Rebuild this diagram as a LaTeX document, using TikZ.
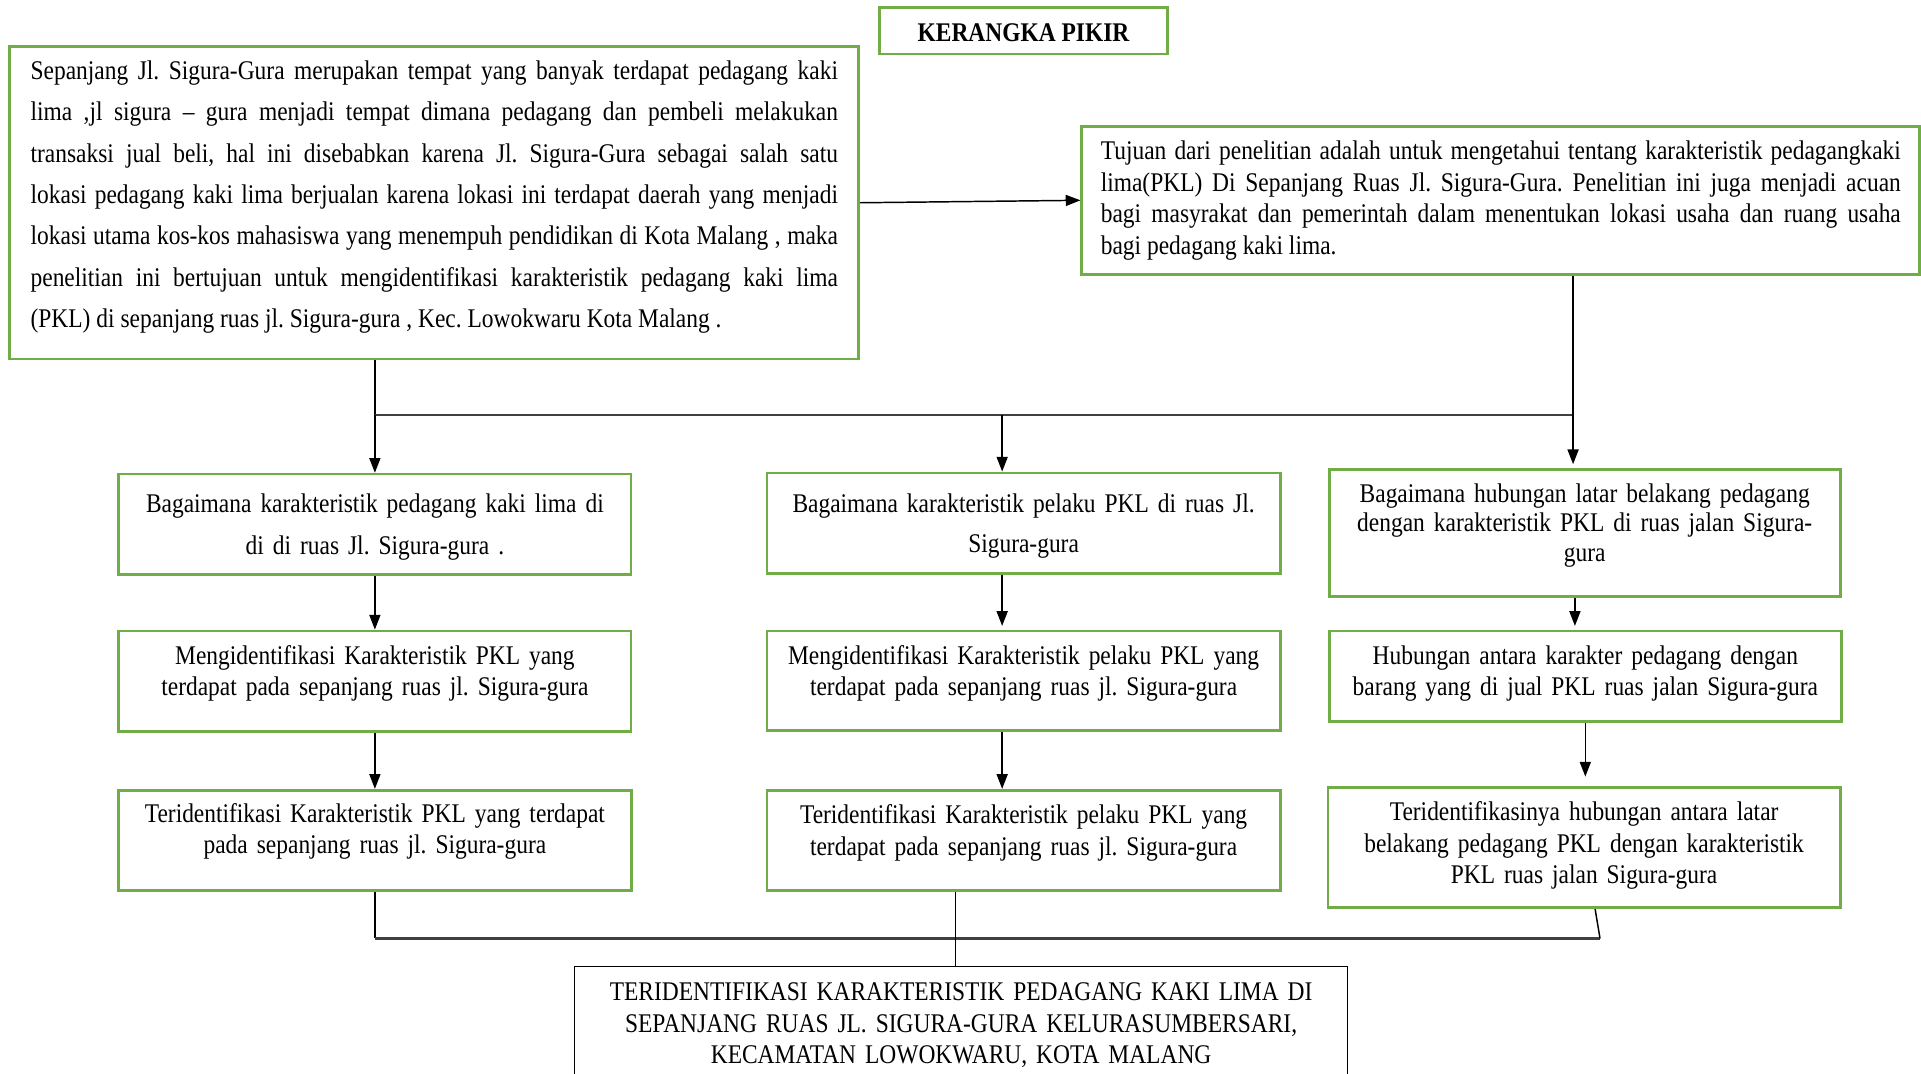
\documentclass[tikz,border=0pt]{standalone}
\usepackage{fontspec}
\setmainfont{Liberation Serif}[FakeStretch=0.87]
\frenchspacing
\usetikzlibrary{arrows.meta}
\definecolor{hijau}{RGB}{112,173,71}
\tikzset{
	kotak/.style={draw=hijau, line width=1.1pt, inner sep=0pt, anchor=base, align=center, font=\fontsize{11}{#1}\selectfont},
	kotak/.default=13,
	baris/.style={kotak=#1, minimum width=209pt, text width=200pt},
	baris/.default=13,
	panah/.style={-{Triangle[length=6pt,width=4.5pt]}, line width=0.6pt},
	garis/.style={line width=0.6pt},
	sambung/.style={line width=0.9pt, draw=black!75}
}

\begin{document}
\begin{tikzpicture}[x=0.5pt, y=-0.5pt]
		\useasboundingbox (0,0) rectangle (1568,876);
		
		\node[kotak, minimum width=117.5pt, text height=14pt, text depth=5pt] (judul) at (835.5,34) {\textbf{KERANGKA PIKIR}};
		
		\node[kotak=16.85, align=justify, minimum width=346.5pt, text width=329.5pt, text height=13.5pt, text depth=114pt] (latar) at (354.5,65) {Sepanjang Jl. Sigura-Gura merupakan tempat yang banyak terdapat pedagang kaki\linebreak
		lima ,jl sigura – gura menjadi tempat dimana pedagang dan pembeli melakukan\linebreak
		transaksi jual beli, hal ini disebabkan karena Jl. Sigura-Gura sebagai salah satu\linebreak
		lokasi pedagang kaki lima berjualan karena lokasi ini terdapat daerah yang menjadi\linebreak
		lokasi utama kos-kos mahasiswa yang menempuh pendidikan di Kota Malang , maka\linebreak
		penelitian ini bertujuan untuk mengidentifikasi karakteristik pedagang kaki lima\linebreak
		(PKL) di sepanjang ruas jl. Sigura-gura , Kec. Lowokwaru Kota Malang .};
		
		\node[kotak, align=justify, minimum width=342pt, text width=326.5pt, text height=13.5pt, text depth=47pt] (tujuan) at (1225,130) {Tujuan dari penelitian adalah untuk mengetahui tentang karakteristik pedagangkaki\linebreak
		lima(PKL) Di Sepanjang Ruas Jl. Sigura-Gura. Penelitian ini juga menjadi acuan\linebreak
		bagi masyrakat dan pemerintah dalam menentukan lokasi usaha dan ruang usaha\linebreak
		bagi pedagang kaki lima.};
		
		% rumusan masalah
		\node[baris=17.5, text height=15.5pt, text depth=25.5pt] (q1) at (306,418) {Bagaimana karakteristik pedagang kaki lima di\\ di di ruas Jl. Sigura-gura .};
		\node[baris=16.5, minimum width=209.5pt, text height=16pt, text depth=25pt] (q2) at (835.5,418) {Bagaimana karakteristik pelaku PKL di ruas Jl.\\ Sigura-gura};
		\node[baris=12, minimum width=208.5pt, text height=13.5pt, text depth=38.5pt] (q3) at (1293.5,410) {Bagaimana hubungan latar belakang pedagang\\ dengan karakteristik PKL di ruas jalan Sigura-\\ gura};
		
		% tujuan
		\node[baris, text height=13.5pt, text depth=27.5pt] (m1) at (306,542) {Mengidentifikasi Karakteristik PKL yang\\ terdapat pada sepanjang ruas jl. Sigura-gura};
		\node[baris, minimum width=209.5pt, text height=13.5pt, text depth=27pt] (m2) at (835.5,542) {Mengidentifikasi Karakteristik pelaku PKL yang\\ terdapat pada sepanjang ruas jl. Sigura-gura};
		\node[baris, text height=13.5pt, text depth=23.5pt] (m3) at (1294,542) {Hubungan antara karakter pedagang dengan\\ barang yang di jual PKL ruas jalan Sigura-gura};
		
		% hasil
		\node[baris, minimum width=209.5pt, text height=13pt, text depth=28pt] (r1) at (306,671) {Teridentifikasi Karakteristik PKL yang terdapat\\ pada sepanjang ruas jl. Sigura-gura};
		\node[baris, minimum width=209.5pt, text height=13.5pt, text depth=27.5pt] (r2) at (835.5,672) {Teridentifikasi Karakteristik pelaku PKL yang\\ terdapat pada sepanjang ruas jl. Sigura-gura};
		\node[baris=12.75, text height=13.5pt, text depth=35.5pt] (r3) at (1293,670) {Teridentifikasinya hubungan antara latar\\ belakang pedagang PKL dengan karakteristik\\ PKL ruas jalan Sigura-gura};
		
		\node[kotak=12.75, draw=black, line width=0.6pt, minimum width=315.5pt, text width=305pt, text height=14pt, text depth=40pt] (hasil) at (784.5,817) {TERIDENTIFIKASI KARAKTERISTIK PEDAGANG KAKI LIMA DI\\ SEPANJANG RUAS JL. SIGURA-GURA KELURASUMBERSARI,\\ KECAMATAN LOWOKWARU, KOTA MALANG};
		
		\coordinate (jl) at (306,339);
		\coordinate (jm) at (818,339);
		\coordinate (jr) at (1284,339);
		\coordinate (bl) at (306,766);
		\coordinate (bm) at (780,766);
		\coordinate (br) at (1306,766);
		
		\draw[panah] (latar.east) -- (tujuan.west);
		
		\draw[garis] (latar.south -| jl) -- (jl);
		\draw[sambung] (jl) -- (jr);
		\draw[panah] (jl) -- (q1.north);
		\draw[panah] (jm) -- (jm |- q2.north);
		\draw[panah, shorten >=1.5pt] (jr |- tujuan.south) -- (jr |- q3.north);
		
		\draw[panah] (q1.south) -- (m1.north);
		\draw[panah] (m1.south) -- (r1.north);
		\draw[panah, shorten >=1.5pt] (jm |- q2.south) -- (jm |- m2.north);
		\draw[panah] (jm |- m2.south) -- (jm |- r2.north);
		\draw[panah, shorten >=1.5pt] ([xshift=-4pt]q3.south) -- ([xshift=-4pt]q3.south |- m3.north);
		\draw[panah, shorten >=4pt] (m3.south) -- (m3.south |- r3.north);
		
		\draw[garis] (r1.south) -- (bl);
		\draw[sambung] (bl) -- (br);
		\draw[garis] ([xshift=4.5pt]r3.south) -- (br);
		\draw[garis] (bm |- r2.south) -- (bm |- hasil.north);
\end{tikzpicture}
\end{document}
